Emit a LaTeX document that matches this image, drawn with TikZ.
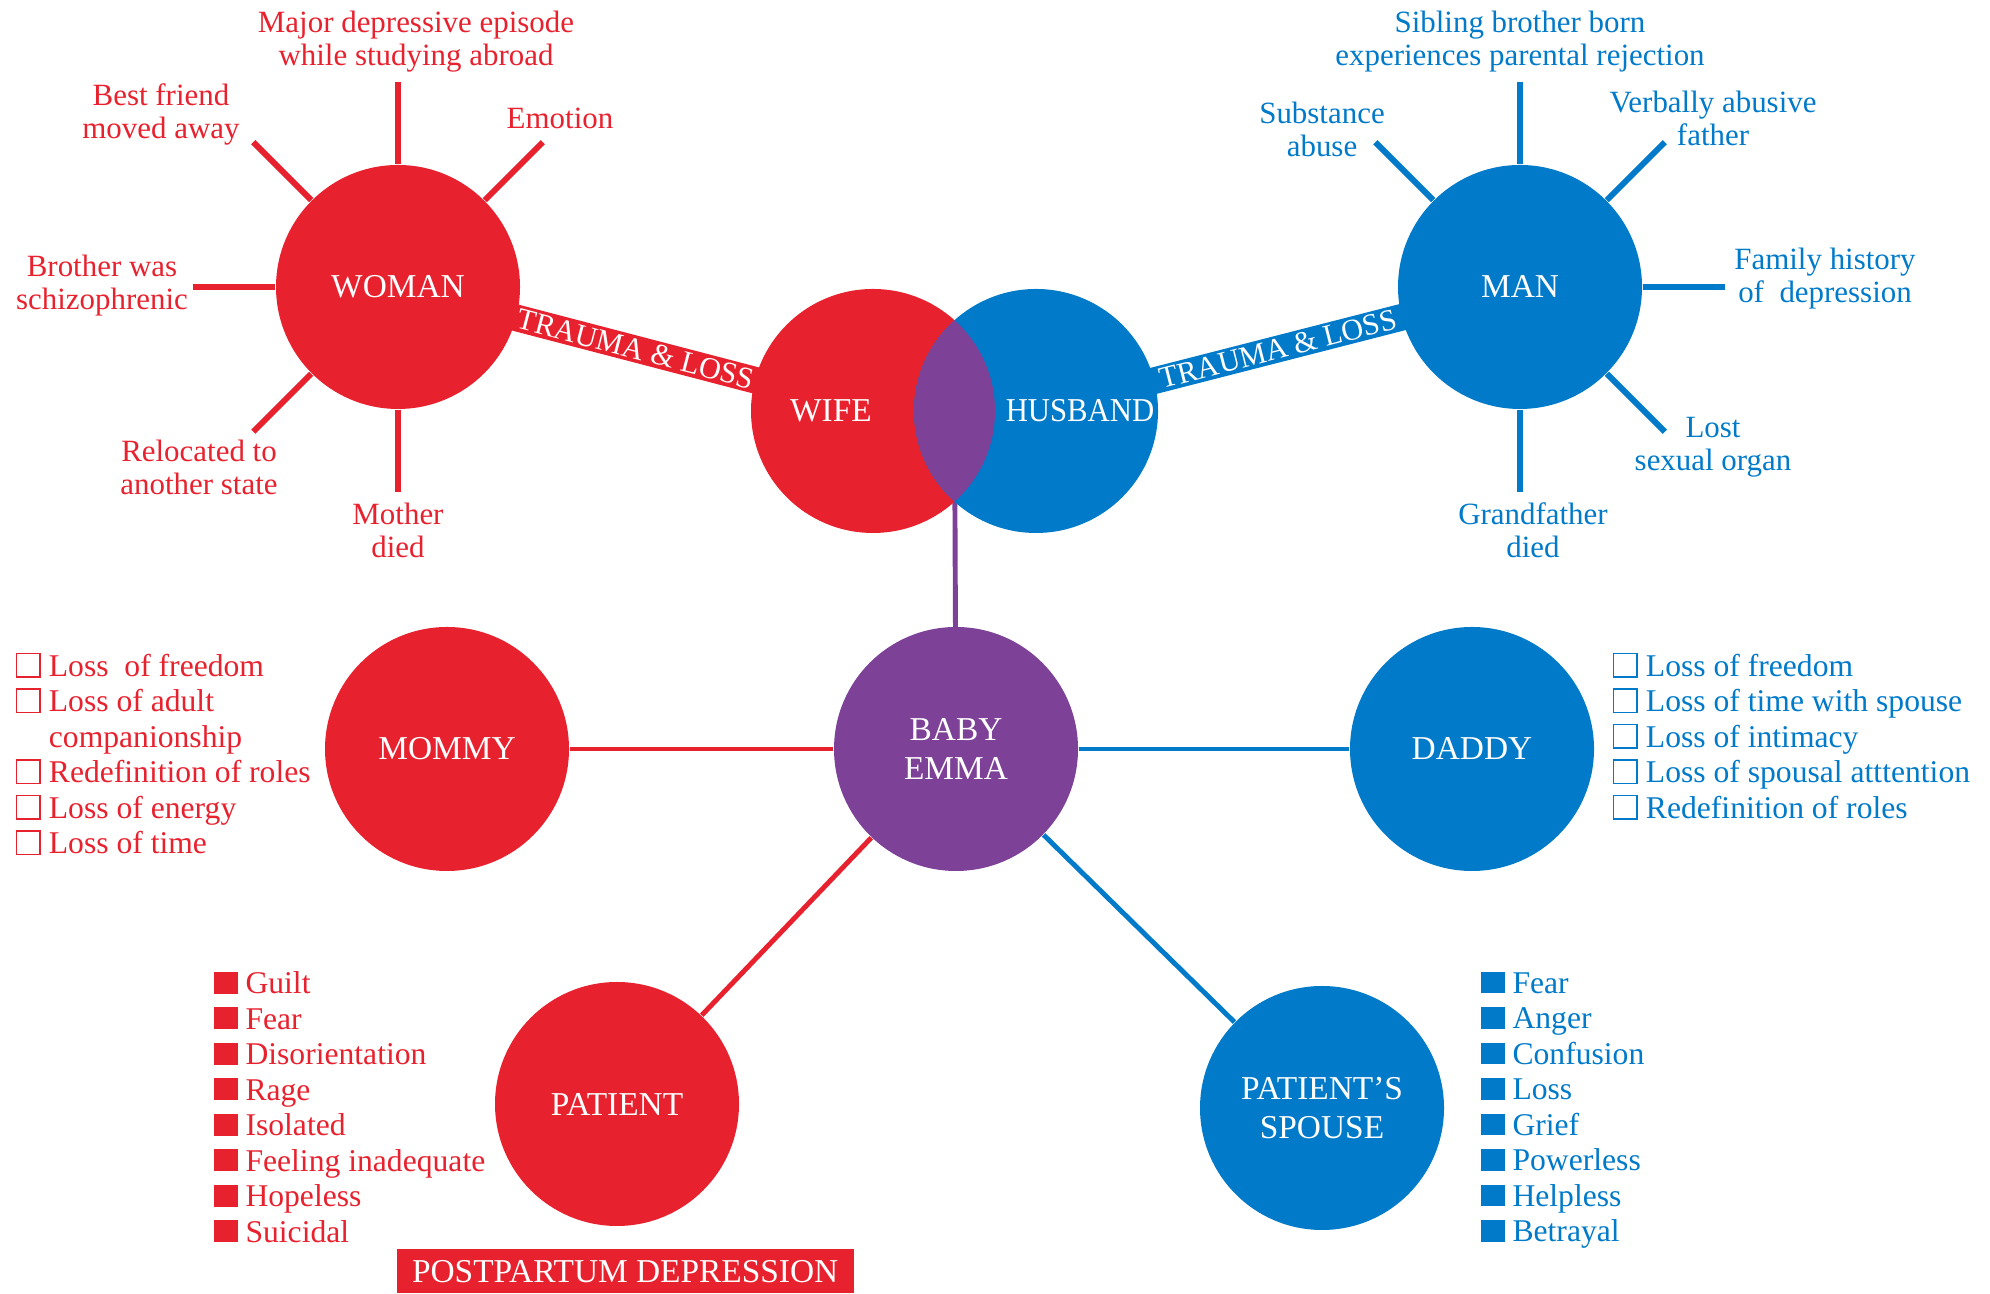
\documentclass[tikz,border=0pt]{standalone}
\usepackage{fontspec}
\setmainfont{Liberation Serif}
\usetikzlibrary{positioning,backgrounds,calc}

\definecolor{momred}{RGB}{232,33,46}
\definecolor{dadblue}{RGB}{0,122,201}
\definecolor{babypurple}{RGB}{125,65,152}

% little squares in front of the list items
\newcommand{\opensq}{{\setlength{\fboxsep}{0pt}\setlength{\fboxrule}{0.5pt}\fbox{\rule{0pt}{6.2pt}\hspace{6.2pt}}}}
\newcommand{\solidsq}{\rule{6.8pt}{6.2pt}}

\tikzset{
  bubble/.style={circle, minimum size=2.44cm, inner sep=0pt, text=white, align=center,
                 font=\fontsize{9.5}{11.2}\selectfont},
  bubbletext/.style={text=white, inner sep=0pt, font=\fontsize{9.5}{11.2}\selectfont},
  spoke/.style={line width=1.7pt},
  link/.style={line width=1.4pt},
  band/.style={line width=7.6pt},
  bandtext/.style={sloped, text=white, inner sep=0pt, font=\fontsize{8.6}{10}\selectfont},
  lbl/.style={align=center, inner sep=0pt, font=\fontsize{8.8}{9.4}\selectfont},
  items/.style={align=left, inner sep=0pt, anchor=north west, font=\fontsize{9}{10.1}\selectfont},
}

\begin{document}
\begin{tikzpicture}
\useasboundingbox (0,0) rectangle (19.90,12.94);

% couple and their pasts
\node[bubble, fill=momred] (woman) at (3.98,10.07) {WOMAN};
\node[bubble, fill=dadblue] (man) at (15.20,10.07) {MAN};
\node[bubble, fill=momred] (wife) at (8.73,8.83) {};
\node[bubble, fill=dadblue] (husband) at (10.36,8.83) {};
\begin{scope}
  \clip (wife.center) circle (1.22);
  \fill[babypurple] (husband.center) circle (1.22);
\end{scope}
\node[bubbletext] (wifetext) at ($(wife)+(-0.42,0)$) {WIFE};
\node[bubbletext] (husbandtext) at ($(husband)+(0.44,0)$) {\scalebox{0.92}[1]{HUSBAND}};

% the baby and the roles around her
\node[bubble, fill=babypurple] (baby) at (9.56,5.45) {BABY\\EMMA};
\node[bubble, fill=momred] (mommy) at (4.47,5.45) {MOMMY};
\node[bubble, fill=dadblue] (daddy) at (14.72,5.45) {DADDY};
\node[bubble, fill=momred] (patient) at (6.17,1.90) {PATIENT};
\node[bubble, fill=dadblue] (spouse) at (13.22,1.86) {PATIENT’S\\SPOUSE};

\begin{scope}[on background layer]
  \draw[band, momred] (woman.center) -- (wife.center);
  \draw[band, dadblue] (husband.center) -- (man.center);
  \draw[link, babypurple] ($(wife.center)!0.5!(husband.center)$) -- (baby.center);
\end{scope}
\path (woman) -- (wife) node[midway, bandtext] (traumaw) {TRAUMA \& LOSS};
\path (husband) -- (man) node[midway, bandtext] (traumam) {TRAUMA \& LOSS};

\draw[link, momred] (mommy) -- (baby);
\draw[link, dadblue] (baby) -- (daddy);
\draw[link, momred] (baby) -- (patient);
\draw[link, dadblue] (baby) -- (spouse);

% spokes
\foreach \a in {45,90,135,180,225,270}
  \draw[spoke, momred] (woman.\a) -- ++(\a:0.82) coordinate (wend\a);
\foreach \a in {0,45,90,135,270,315}
  \draw[spoke, dadblue] (man.\a) -- ++(\a:0.82) coordinate (mend\a);

% her side
\node[lbl, momred] (wmajor) at (4.16,12.52) {Major depressive episode\\while studying abroad};
\node[lbl, momred] (wfriend) at (1.61,11.80) {Best friend\\moved away};
\node[lbl, momred] (wemotion) at (5.60,11.76) {Emotion};
\node[lbl, momred] (wbrother) at (1.02,10.08) {Brother was\\schizophrenic};
\node[lbl, momred] (wmoved) at (1.99,8.27) {Relocated to\\another state};
\node[lbl, momred] (wmother) at (3.98,7.64) {Mother\\died};

% his side
\node[lbl, dadblue] (msibling) at (15.20,12.52) {Sibling brother born\\experiences parental rejection};
\node[lbl, dadblue] (msubst) at (13.22,11.65) {Substance\\abuse};
\node[lbl, dadblue] (mfather) at (17.13,11.76) {Verbally abusive\\father};
\node[lbl, dadblue] (mfamily) at (18.25,10.15) {Family history\\of\ \ depression};
\node[lbl, dadblue] (morgan) at (17.13,8.47) {Lost\\sexual organ};
\node[lbl, dadblue] (mgrand) at (15.33,7.64) {Grandfather\\died};

% lists
\node[items, momred] (mommylist) at (0.15,6.42) {\opensq\ Loss\ \ of freedom\\
  \opensq\ Loss of adult\\
  \phantom{\opensq}\ companionship\\
  \opensq\ Redefinition of roles\\
  \opensq\ Loss of energy\\
  \opensq\ Loss of time};
\node[items, dadblue] (daddylist) at (16.12,6.42) {\opensq\ Loss of freedom\\
  \opensq\ Loss of time with spouse\\
  \opensq\ Loss of intimacy\\
  \opensq\ Loss of spousal atttention\\
  \opensq\ Redefinition of roles};
\node[items, momred] (patientlist) at (2.13,3.23) {\solidsq\ Guilt\\
  \solidsq\ Fear\\
  \solidsq\ Disorientation\\
  \solidsq\ Rage\\
  \solidsq\ Isolated\\
  \solidsq\ Feeling inadequate\\
  \solidsq\ Hopeless\\
  \solidsq\ Suicidal};
\node[items, dadblue] (spouselist) at (14.80,3.23) {\solidsq\ Fear\\
  \solidsq\ Anger\\
  \solidsq\ Confusion\\
  \solidsq\ Loss\\
  \solidsq\ Grief\\
  \solidsq\ Powerless\\
  \solidsq\ Helpless\\
  \solidsq\ Betrayal};

\node[fill=momred, text=white, minimum width=4.57cm, minimum height=0.44cm, inner sep=0pt,
      anchor=south west, font=\fontsize{9.5}{11}\selectfont] (ppd) at (3.96,0) {POSTPARTUM DEPRESSION};
\end{tikzpicture}
\end{document}
